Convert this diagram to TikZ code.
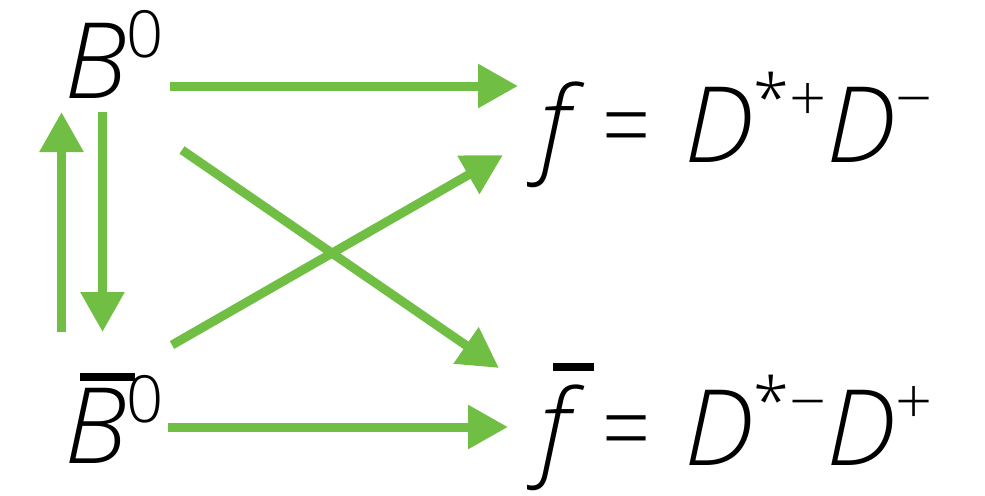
\documentclass[tikz,border=0pt]{standalone}
\usepackage{fontspec}
\usepackage{graphicx}
\setmainfont{Open Sans Light}[ItalicFont={Open Sans Light Italic}]
\usetikzlibrary{arrows.meta}

\definecolor{flowgreen}{RGB}{112,191,68}
% superscript, over-bar and equals sign for the state labels
\newcommand\sups[1]{\raisebox{23pt}{\fontsize{37}{40}\selectfont\upshape #1}}
\newcommand\ovbar[3]{\rlap{\hspace*{#1}\rule[#2]{#3}{4.5pt}}}
\newcommand\eqsign{\makebox[\fontcharwd\font`=][c]{\scalebox{0.8}[1]{=}}}

\begin{document}
\begin{tikzpicture}[x=0.02cm,y=-0.02cm,
  flow/.style={draw=flowgreen,line width=0.18cm,-{Triangle[length=0.8cm,width=0.84cm]}},
  lab/.style={anchor=base west,inner sep=0pt,font=\fontsize{60}{66}\selectfont}]
\useasboundingbox (0,0) rectangle (985,495);
% states
\node[lab] (b) at (64,98) {\itshape B\sups{0}};
\node[lab] (bb) at (64,463) {\ovbar{9pt}{46.7pt}{31pt}\itshape B\sups{0}};
\node[lab] (f) at (539,162) {\itshape f \upshape\eqsign{} \itshape D\sups{*+}D\sups{\textminus}};
\node[lab] (fb) at (539,465) {\ovbar{8pt}{53.5pt}{23.3pt}\itshape f \upshape\eqsign{} \itshape D\sups{*\textminus}D\sups{+}};
% arrow ends
\coordinate (b1) at (170,86);   \coordinate (f1) at (518,86);
\coordinate (bb1) at (168,427); \coordinate (fb1) at (508,427);
\coordinate (d0) at (102.5,112); \coordinate (d1) at (102.5,332);
\coordinate (u0) at (61.5,332);  \coordinate (u1) at (61.5,112);
\coordinate (x0) at (182,150);  \coordinate (x1) at (499,368);
\coordinate (y0) at (172,345);  \coordinate (y1) at (503,155);
% transitions
\draw[flow] (b1) -- (f1);
\draw[flow] (bb1) -- (fb1);
\draw[flow] (d0) -- (d1);
\draw[flow] (u0) -- (u1);
\draw[flow] (x0) -- (x1);
\draw[flow] (y0) -- (y1);
\end{tikzpicture}
\end{document}
